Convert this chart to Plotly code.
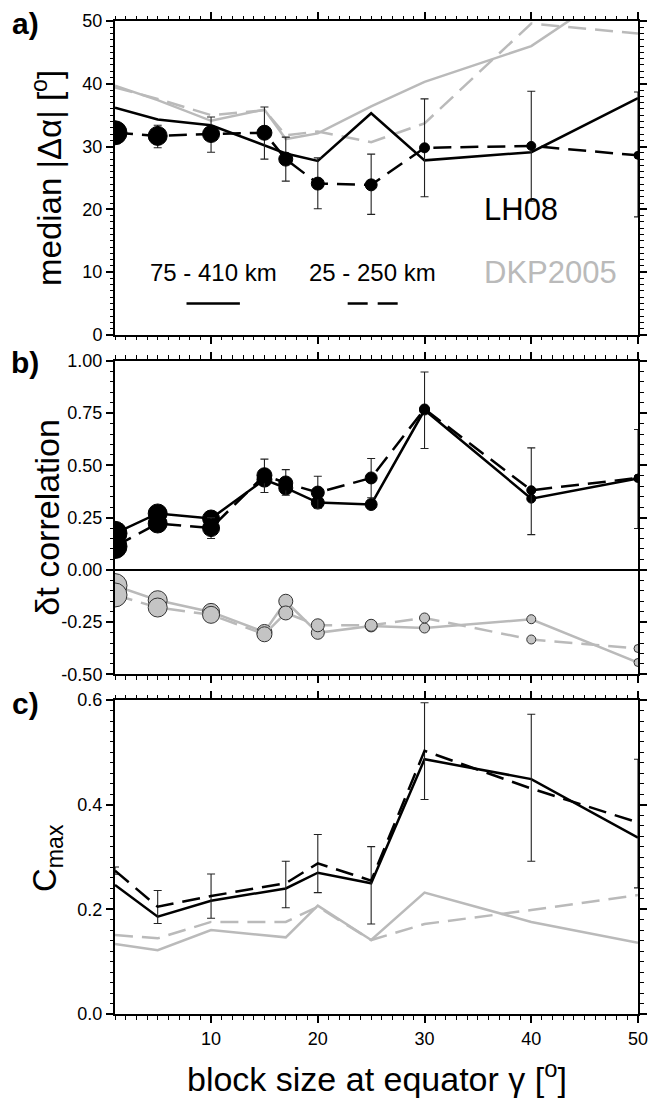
import plotly.graph_objects as go

# ---------------- data ----------------
block = [1, 5, 10, 15, 17, 20, 25, 30, 40, 50]
block_c = [1, 5, 10, 17, 20, 25, 30, 40, 50]

# a) median |dalpha| [deg]
lh08_dalpha_deep = [36.2, 34.3, 33.4, 30.2, 28.9, 27.7, 35.3, 27.8, 29.1, 37.7]       # 75-410 km
lh08_dalpha_shallow = [32.2, 31.7, 32.0, 32.2, 28.0, 24.1, 23.9, 29.8, 30.1, 28.6]    # 25-250 km
lh08_dalpha_hi = [33.5, 33.4, 34.7, 36.3, 31.5, 28.2, 28.8, 37.6, 38.8, 38.7]
lh08_dalpha_lo = [31.0, 29.8, 29.1, 28.0, 24.5, 20.1, 19.2, 22.0, 21.3, 18.8]
dkp_dalpha_deep = [39.7, 37.4, 34.1, 35.9, 31.2, 32.1, 36.4, 40.3, 46.0, 57.4]
dkp_dalpha_shallow = [39.4, 37.6, 35.0, 35.8, 31.8, 32.4, 30.7, 33.7, 49.6, 48.0]

# b) delta-t correlation
lh08_corr_deep = [0.175, 0.270, 0.246, 0.432, 0.392, 0.322, 0.313, 0.765, 0.341, 0.437]
lh08_corr_shallow = [0.112, 0.222, 0.200, 0.453, 0.416, 0.370, 0.440, 0.770, 0.381, 0.440]
lh08_corr_hi = [0.135, 0.240, 0.250, 0.530, 0.480, 0.448, 0.533, 0.947, 0.584, 0.672]
lh08_corr_lo = [0.090, 0.205, 0.150, 0.370, 0.357, 0.294, 0.345, 0.581, 0.169, 0.198]
dkp_corr_deep = [-0.075, -0.145, -0.201, -0.297, -0.150, -0.301, -0.268, -0.278, -0.236, -0.443]
dkp_corr_shallow = [-0.120, -0.180, -0.215, -0.308, -0.206, -0.265, -0.265, -0.230, -0.333, -0.376]

# c) C_max
lh08_cmax_deep = [0.2465, 0.186, 0.2165, 0.240, 0.270, 0.250, 0.487, 0.449, 0.337]
lh08_cmax_shallow = [0.274, 0.205, 0.2255, 0.250, 0.288, 0.255, 0.503, 0.431, 0.366]
lh08_cmax_hi = [0.281, 0.236, 0.2675, 0.292, 0.343, 0.320, 0.595, 0.573, 0.487]
lh08_cmax_lo = [0.267, 0.173, 0.183, 0.203, 0.232, 0.172, 0.410, 0.292, 0.241]
dkp_cmax_deep = [0.134, 0.122, 0.1605, 0.1465, 0.207, 0.1414, 0.232, 0.176, 0.136]
dkp_cmax_shallow = [0.151, 0.1446, 0.176, 0.176, 0.205, 0.1414, 0.172, 0.1987, 0.2274]

corr_tickvals = [-0.5, -0.25, 0.0, 0.25, 0.5, 0.75, 1.0]
corr_ticktext = ["-0.50", "-0.25", "0.00", "0.25", "0.50", "0.75", "1.00"]

# ---------------- style ----------------
FONT = "Liberation Sans"
BLACK = "black"
GREY = "#bababa"
GREY_FILL = "#c4c4c4"
LW = 2.5
DASH = "18px,9px"
marker_px = [24, 19, 17, 15, 14, 13, 12, 10, 9, 8]


def errs(v, hi, lo):
    return [h - a for a, h in zip(v, hi)], [a - l for a, l in zip(v, lo)]


fig = go.Figure()


def line(x, y, color, dash, xa, ya):
    fig.add_trace(go.Scatter(x=x, y=y, mode="lines", xaxis=xa, yaxis=ya,
                             line=dict(color=color, width=LW, dash=dash),
                             showlegend=False, hoverinfo="skip"))


def err_markers(x, y, hi, lo, xa, ya, color, dash, fill, outline, with_err=True):
    kw = {}
    if with_err:
        ep, em = errs(y, hi, lo)
        kw["error_y"] = dict(type="data", symmetric=False, array=ep, arrayminus=em,
                             color="#222222", thickness=1.1, width=4)
    fig.add_trace(go.Scatter(x=x, y=y, mode="lines+markers",
                             xaxis=xa, yaxis=ya,
                             line=dict(color=color, width=LW, dash=dash),
                             marker=dict(size=marker_px[:len(x)], color=fill, opacity=1,
                                         line=dict(color=outline, width=1)),
                             showlegend=False, hoverinfo="skip", **kw))


# panel a
line(block, dkp_dalpha_deep, GREY, "solid", "x", "y")
line(block, dkp_dalpha_shallow, GREY, DASH, "x", "y")
line(block, lh08_dalpha_deep, BLACK, "solid", "x", "y")
err_markers(block, lh08_dalpha_shallow, lh08_dalpha_hi, lh08_dalpha_lo, "x", "y",
            BLACK, DASH, BLACK, BLACK)

# panel b
err_markers(block, dkp_corr_deep, None, None, "x2", "y2", GREY, "solid", GREY_FILL, "#333333", with_err=False)
err_markers(block, dkp_corr_shallow, None, None, "x2", "y2", GREY, DASH, GREY_FILL, "#333333", with_err=False)
err_markers(block, lh08_corr_deep, None, None, "x2", "y2", BLACK, "solid", BLACK, BLACK, with_err=False)
err_markers(block, lh08_corr_shallow, lh08_corr_hi, lh08_corr_lo, "x2", "y2", BLACK, DASH, BLACK, BLACK)

# panel c
line(block_c, dkp_cmax_deep, GREY, "solid", "x3", "y3")
line(block_c, dkp_cmax_shallow, GREY, DASH, "x3", "y3")
line(block_c, lh08_cmax_deep, BLACK, "solid", "x3", "y3")
ep, em = errs(lh08_cmax_shallow, lh08_cmax_hi, lh08_cmax_lo)
fig.add_trace(go.Scatter(x=block_c, y=lh08_cmax_shallow, mode="lines", xaxis="x3", yaxis="y3",
                         line=dict(color=BLACK, width=LW, dash=DASH),
                         error_y=dict(type="data", symmetric=False, array=ep, arrayminus=em,
                                      color="#222222", thickness=1.1, width=4),
                         showlegend=False, hoverinfo="skip"))

# ---------------- axes ----------------
tickfont = dict(family=FONT, size=18, color="black")


def xax(anchor, labels):
    return dict(range=[1, 50], tick0=0, dtick=10, ticks="outside", ticklen=7, tickwidth=1.5,
                tickcolor="black", showline=True, linewidth=2, linecolor="black", mirror="ticks",
                showgrid=False, zeroline=False, showticklabels=labels, tickfont=tickfont,
                anchor=anchor,
                minor=dict(tickmode="linear", tick0=0, dtick=1, ticks="outside", ticklen=3.5,
                           tickwidth=1, tickcolor="black", showgrid=False))


def yax(anchor, dom, rng, dtick, mdtick, **extra):
    d = dict(range=rng, tick0=0, dtick=dtick, ticks="outside", ticklen=7, tickwidth=1.5,
             tickcolor="black", showline=True, linewidth=2, linecolor="black", mirror="ticks",
             showgrid=False, zeroline=False, tickfont=tickfont, anchor=anchor, domain=dom,
             minor=dict(tickmode="linear", tick0=0, dtick=mdtick, ticks="outside", ticklen=3.5,
                        tickwidth=1, tickcolor="black", showgrid=False))
    d.update(extra)
    return d


H_PLOT = 1014 - 20.7


def py(p):
    return (1014 - p) / H_PLOT


def px(p):
    return (p - 115) / 523.0


fig.update_layout(
    width=650, height=1098,
    margin=dict(l=115, r=12, t=20.7, b=84, autoexpand=False),
    paper_bgcolor="white", plot_bgcolor="white",
    font=dict(family=FONT, color="black", size=18),
    xaxis=xax("y", False),
    xaxis2=xax("y2", False),
    xaxis3=xax("y3", True),
    yaxis=yax("x", [py(334.7), 1.0], [0, 50], 10, 1),
    yaxis2=yax("x2", [py(674.3), py(360.7)], [-0.5, 1.0], None, 0.05,
               tickmode="array", tickvals=corr_tickvals, ticktext=corr_ticktext,
               zeroline=True, zerolinecolor="black", zerolinewidth=2),
    yaxis3=yax("x3", [0.0, py(700)], [0, 0.6], 0.2, 0.02, tickformat=".1f"),
)

ann = []
# y-axis titles
ann.append(dict(text="median |Δα| [<sup>o</sup>]", x=px(47), y=py(177.7), xref="paper", yref="paper",
                textangle=-90, showarrow=False, font=dict(size=33), xanchor="center", yanchor="middle"))
ann.append(dict(text="δt correlation", x=px(47), y=py(517.5), xref="paper", yref="paper",
                textangle=-90, showarrow=False, font=dict(size=34), xanchor="center", yanchor="middle"))
ann.append(dict(text="C<sub>max</sub>", x=px(47), y=py(858), xref="paper", yref="paper",
                textangle=-90, showarrow=False, font=dict(size=33), xanchor="center", yanchor="middle"))
# x-axis title
ann.append(dict(text="block size at equator γ [<sup>o</sup>]", x=px(377), y=py(1077), xref="paper",
                yref="paper", showarrow=False, font=dict(size=34), xanchor="center", yanchor="middle"))
# panel labels
for lab, yy in [("a)", 23), ("b)", 362), ("c)", 703)]:
    ann.append(dict(text="<b>%s</b>" % lab, x=px(25), y=py(yy), xref="paper", yref="paper",
                    showarrow=False, font=dict(size=30), xanchor="center", yanchor="middle"))
# in-panel legend text (panel a)
ann.append(dict(text="LH08", x=35.4, y=20, xref="x", yref="y", showarrow=False,
                font=dict(size=31, color="black"), xanchor="left", yanchor="middle"))
ann.append(dict(text="DKP2005", x=35.4, y=10, xref="x", yref="y", showarrow=False,
                font=dict(size=31, color=GREY), xanchor="left", yanchor="middle"))
ann.append(dict(text="75 - 410 km", x=10.2, y=10, xref="x", yref="y", showarrow=False,
                font=dict(size=24), xanchor="center", yanchor="middle"))
ann.append(dict(text="25 - 250 km", x=25.1, y=10, xref="x", yref="y", showarrow=False,
                font=dict(size=24), xanchor="center", yanchor="middle"))
fig.update_layout(annotations=ann)

fig.add_shape(type="line", xref="x", yref="y", x0=7.7, x1=12.7, y0=5, y1=5,
              line=dict(color="black", width=LW))
fig.add_shape(type="line", xref="x", yref="y", x0=22.8, x1=27.7, y0=5, y1=5,
              line=dict(color="black", width=LW, dash="20px,10px"))

fig.write_html("out.html", config={"displayModeBar": False},
               post_script="document.body.style.margin='0';document.body.style.overflow='hidden';")
